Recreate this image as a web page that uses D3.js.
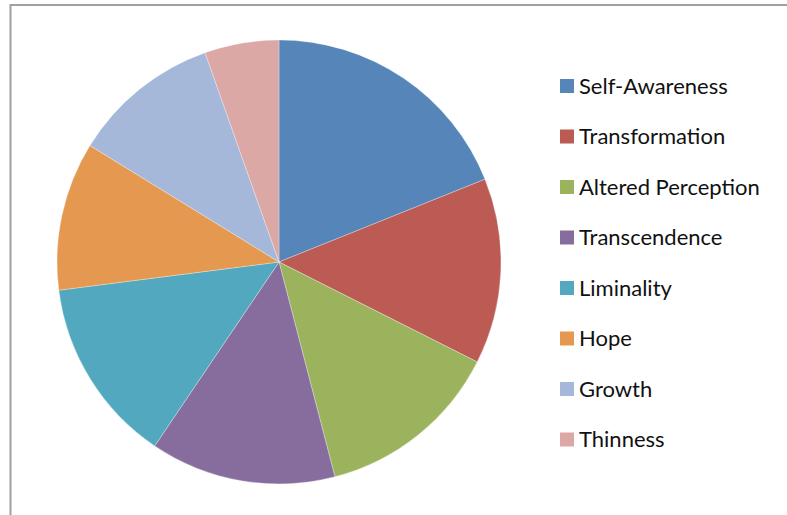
<!DOCTYPE html>
<html>
<head>
<meta charset="utf-8">
<script src="https://cdn.jsdelivr.net/npm/d3@7"></script>
<style>
  html, body { margin: 0; padding: 0; background: #fff; }
  svg { display: block; }
</style>
</head>
<body>
<svg id="chart" width="787" height="515"></svg>
<script>
// Theme categories and their counts
const categories = ["Self-Awareness", "Transformation", "Altered Perception", "Transcendence",
                    "Liminality", "Hope", "Growth", "Thinness"];
const counts = [7, 5, 5, 5, 5, 4, 4, 2];
const colors = ["#5685b9", "#bc5b54", "#9cb35e", "#876d9d",
                "#52a9bf", "#e5984f", "#a5b8d9", "#dca8a5"];

const svg = d3.select("#chart");
const W = 787, H = 515;

// chart frame (top and left edges visible)
svg.append("line").attr("x1", 10.5).attr("y1", 5).attr("x2", W).attr("y2", 5)
  .attr("stroke", "#a0a0a0").attr("stroke-width", 2);
svg.append("line").attr("x1", 10.5).attr("y1", 4).attr("x2", 10.5).attr("y2", H)
  .attr("stroke", "#a0a0a0").attr("stroke-width", 2);

const data = categories.map((c, i) => ({ name: c, value: counts[i], color: colors[i] }));

const cx = 279, cy = 262, r = 222;
const pie = d3.pie().value(d => d.value).sort(null);
const arc = d3.arc().innerRadius(0).outerRadius(r);

const g = svg.append("g").attr("transform", `translate(${cx},${cy})`);
g.selectAll("path")
  .data(pie(data))
  .join("path")
  .attr("d", arc)
  .attr("fill", d => d.data.color)
  .attr("stroke", "#ffffff")
  .attr("stroke-width", 0.3);

// legend
const legend = svg.append("g").attr("transform", "translate(560,86)");
const rows = legend.selectAll("g")
  .data(data)
  .join("g")
  .attr("transform", (d, i) => `translate(0,${i * 50.5})`);
rows.append("rect")
  .attr("x", 0).attr("y", -7).attr("width", 14).attr("height", 14)
  .attr("fill", d => d.color);
rows.append("text")
  .attr("x", 19).attr("y", 0)
  .attr("dy", "0.35em")
  .attr("font-family", "Lato, 'Open Sans', sans-serif")
  .attr("font-size", 22)
  .attr("fill", "#111")
  .text(d => d.name);
</script>
</body>
</html>
